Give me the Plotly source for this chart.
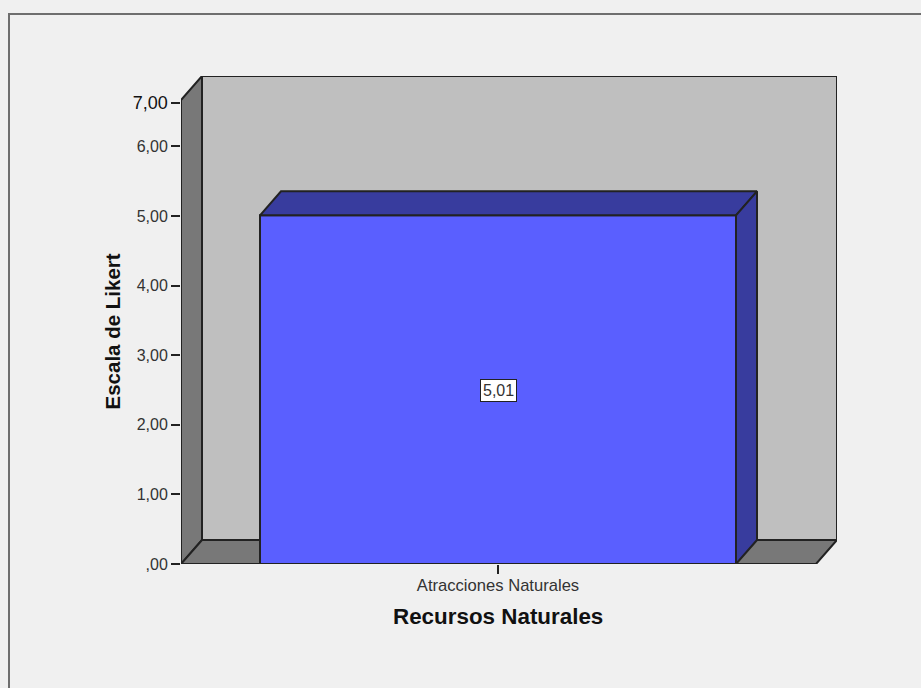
import plotly.graph_objects as go

categories = ["Atracciones Naturales"]
values = [5.01]
value_labels = ["5,01"]
tick_values = [0, 1, 2, 3, 4, 5, 6, 6.62]
tick_labels = [",00", "1,00", "2,00", "3,00", "4,00", "5,00", "6,00", "7,00"]
y_title = "Escala de Likert"
x_title = "Recursos Naturales"

W, H = 921, 688
PX_LEFT, PX_RIGHT, PX_BOTTOM, PX_TOP = 181, 837, 564, 76
BAR_L, BAR_R = 260, 736
UNIT_Y = 69.6
UNIT_X = BAR_R - BAR_L
CENTER = (BAR_L + BAR_R) / 2
DX = 21 / UNIT_X
DY = 24 / UNIT_Y

x_min = (PX_LEFT - CENTER) / UNIT_X
x_max = (PX_RIGHT - CENTER) / UNIT_X
y_max = (PX_BOTTOM - PX_TOP) / UNIT_Y
front_right = (816 - CENTER) / UNIT_X

BG, WALL, SIDE = "#f0f0f0", "#bfbfbf", "#787878"
BAR, BAR_DARK, INK = "#5a5fff", "#383c9e", "#222222"
FONT = "Liberation Sans"


def poly(xs, ys, fill):
    path = "M " + " L ".join(f"{x},{y}" for x, y in zip(xs, ys)) + " Z"
    return dict(type="path", path=path, fillcolor=fill,
                line=dict(color=INK, width=2), layer="below")


shapes = [
    poly([x_min + DX, x_max, x_max, x_min + DX], [DY, DY, y_max, y_max], WALL),
    poly([x_min, x_min + DX, x_min + DX, x_min], [0, DY, y_max, y_max - DY], SIDE),
    poly([x_min, front_right, x_max, x_min + DX], [0, 0, DY, DY], SIDE),
]

fig = go.Figure()
fig.add_trace(go.Bar(
    x=[0], y=values, width=[1], marker=dict(color=BAR, line=dict(color=INK, width=2)),
    textposition="none", hoverinfo="skip", showlegend=False,
))
v = values[0]
fig.add_trace(go.Scatter(
    x=[-0.5, 0.5, 0.5 + DX, -0.5 + DX, -0.5], y=[v, v, v + DY, v + DY, v],
    mode="lines", fill="toself", fillcolor=BAR_DARK,
    line=dict(color=INK, width=2), hoverinfo="skip", showlegend=False,
))
fig.add_trace(go.Scatter(
    x=[0.5, 0.5 + DX, 0.5 + DX, 0.5, 0.5], y=[0, DY, v + DY, v, 0],
    mode="lines", fill="toself", fillcolor=BAR_DARK,
    line=dict(color=INK, width=2), hoverinfo="skip", showlegend=False,
))

annotations = [
    dict(x=0, y=v / 2, yshift=-1, text=value_labels[0], showarrow=False,
         bgcolor="#ffffff", bordercolor=INK, borderwidth=1, borderpad=2,
         font=dict(family=FONT, size=16, color="#333333")),
    dict(x=498 / W, y=1 - 616 / H, xref="paper", yref="paper", text=f"<b>{x_title}</b>",
         xanchor="center", yanchor="middle", showarrow=False,
         font=dict(family=FONT, size=22.4, color="#111111")),
    dict(x=112 / W, y=1 - 331.5 / H, xref="paper", yref="paper", text=f"<b>{y_title}</b>",
         xanchor="center", yanchor="middle", textangle=-90, showarrow=False,
         font=dict(family=FONT, size=20.5, color="#111111")),
]

frame = dict(type="rect", xref="paper", yref="paper", x0=9 / W, x1=1.2, y0=-0.2, y1=1 - 14 / H,
             line=dict(color="#6e6e6e", width=2), fillcolor="rgba(0,0,0,0)", layer="below")

shown_ticks = tick_labels[:-1] + [
    f'<span style="font-size:18px;fill:#111111">{tick_labels[-1]}</span>']

fig.update_layout(
    width=W, height=H, autosize=False,
    margin=dict(l=0, r=0, t=0, b=0),
    paper_bgcolor=BG, plot_bgcolor=BG,
    shapes=[frame] + shapes,
    annotations=annotations,
    xaxis=dict(domain=[PX_LEFT / W, PX_RIGHT / W], range=[x_min, x_max], automargin=False,
               tickmode="array", tickvals=[0], ticktext=categories,
               ticks="outside", ticklen=9, tickcolor=INK, tickwidth=2, ticklabelstandoff=-3,
               showgrid=False, zeroline=False, showline=False,
               tickfont=dict(family=FONT, size=16.6, color="#333333")),
    yaxis=dict(domain=[1 - PX_BOTTOM / H, 1 - PX_TOP / H], range=[0, y_max], automargin=False,
               tickmode="array", tickvals=tick_values, ticktext=shown_ticks,
               ticks="outside", ticklen=9, tickcolor=INK, tickwidth=2,
               showgrid=False, zeroline=False, showline=False,
               tickfont=dict(family=FONT, size=16, color="#333333")),
)

fig.write_html("out.html", config=dict(displayModeBar=False),
               post_script="document.body.style.margin='0';document.body.style.overflow='hidden';document.body.style.background='#f0f0f0';")
